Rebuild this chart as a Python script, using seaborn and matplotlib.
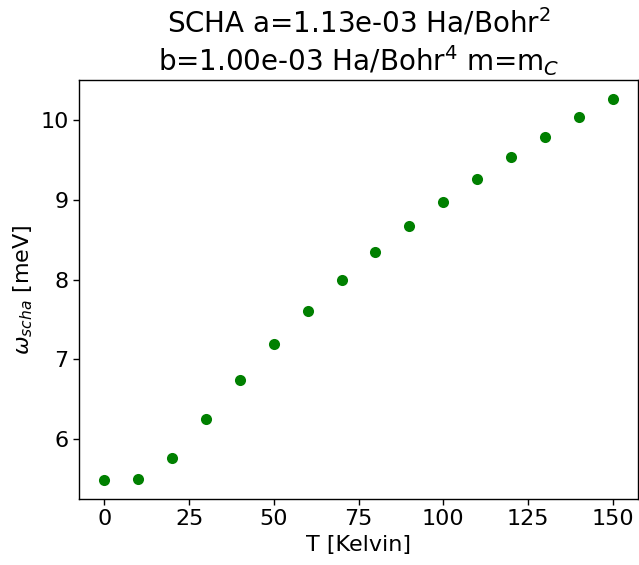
import matplotlib
matplotlib.use("Agg")
import matplotlib.pyplot as plt
import seaborn as sns
import pandas as pd

# Temperatures (K) and SCHA frequencies (meV)
temperature = [0, 10, 20, 30, 40, 50, 60, 70, 80, 90, 100, 110, 120, 130, 140, 150]
omega_scha = [5.49, 5.50, 5.77, 6.25, 6.74, 7.19, 7.60, 7.99, 8.34, 8.67,
              8.97, 9.26, 9.54, 9.79, 10.03, 10.26]

df = pd.DataFrame({"T": temperature, "omega": omega_scha})

sns.set_style("ticks", {"text.color": "black", "axes.labelcolor": "black",
                        "xtick.color": "black", "ytick.color": "black",
                        "axes.edgecolor": "black"})
plt.rcParams["font.family"] = ["DejaVu Sans"]

fig = plt.figure(figsize=(6.39, 5.65), dpi=100)
ax = fig.add_axes([0.1236, 0.1168, 0.875, 0.7416])

sns.scatterplot(data=df, x="T", y="omega", color="green", s=64,
                linewidth=0, ax=ax)

ax.set_xlabel("T [Kelvin]", fontsize=16, color="black")
ax.set_ylabel(r"$\omega_{scha}$ [meV]", fontsize=16, color="black")
ax.set_title("SCHA a=1.13e-03 Ha/Bohr$^2$\nb=1.00e-03 Ha/Bohr$^4$ m=m$_C$",
             fontsize=20, color="black")
ax.tick_params(labelsize=16, direction="out", length=4, width=1,
               color="black", labelcolor="black")
ax.set_xticks([0, 25, 50, 75, 100, 125, 150])
ax.set_yticks([6, 7, 8, 9, 10])
for sp in ax.spines.values():
    sp.set_color("black")
    sp.set_linewidth(1)

fig.savefig("out.png", dpi=100)
